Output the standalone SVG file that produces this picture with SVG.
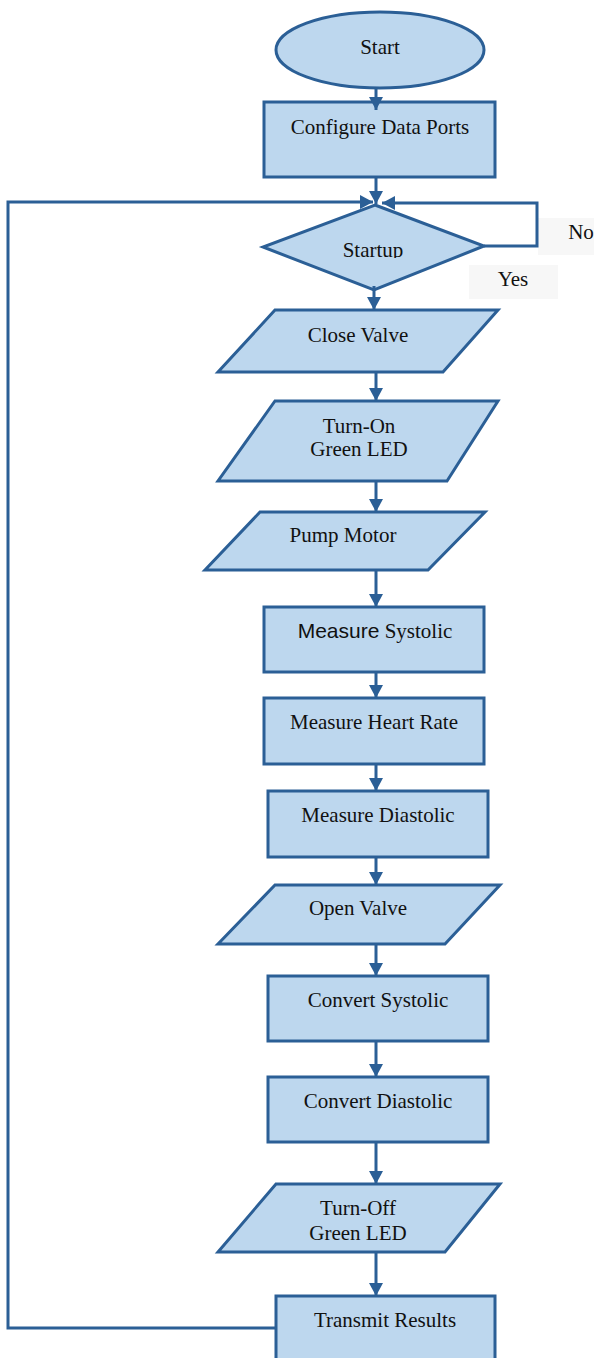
<svg xmlns="http://www.w3.org/2000/svg" width="594" height="1358" viewBox="0 0 594 1358">
<style>
.n{fill:#bdd7ee;stroke:#2b5f96;stroke-width:3;stroke-linejoin:miter}
.t{font-family:"Liberation Serif","Times New Roman",serif;font-size:21px;fill:#111;text-anchor:middle}
.s{font-family:"Liberation Sans",Arial,sans-serif}
.c{fill:none;stroke:#2b5f96;stroke-width:3}
.lb{fill:#f7f7f7}
</style>
<defs>
<marker id="ah" markerUnits="userSpaceOnUse" markerWidth="14" markerHeight="14" refX="13" refY="7" orient="auto">
<path d="M0,0 L13,7 L0,14 Z" fill="#2b5f96"/>
</marker>
<clipPath id="clipS"><rect x="300" y="225" width="150" height="33"/></clipPath>
</defs>
<rect width="594" height="1358" fill="#ffffff"/>

<g id="labels">
<rect class="lb" x="538" y="218" width="56" height="37"/>
<text class="t" x="581" y="239">No</text>
<rect class="lb" x="469" y="265" width="89" height="34"/>
<text class="t" x="513" y="286">Yes</text>
</g>

<g id="start"><ellipse class="n" cx="380" cy="50" rx="104" ry="38"/><text class="t" x="380" y="54">Start</text></g>
<g id="configure"><rect class="n" x="264" y="102" width="231" height="75"/><text class="t" x="380" y="134">Configure Data Ports</text></g>
<g id="startup"><polygon class="n" points="375,205 484,246 374,290 263,247"/><text class="t" x="373" y="257" clip-path="url(#clipS)">Startup</text></g>
<g id="close-valve"><polygon class="n" points="275,310 498,310 443,372 218,372"/><text class="t" x="358" y="342">Close Valve</text></g>
<g id="turn-on"><polygon class="n" points="275,401 498,401 447,481 218,481"/><text class="t" x="359" y="433">Turn-On</text><text class="t" x="359" y="456">Green LED</text></g>
<g id="pump-motor"><polygon class="n" points="260,512 485,512 428,570 205,570"/><text class="t" x="343" y="542">Pump Motor</text></g>
<g id="measure-systolic"><rect class="n" x="264" y="607" width="220" height="65"/><text class="t" x="375" y="638"><tspan class="s">Measure</tspan> Systolic</text></g>
<g id="measure-hr"><rect class="n" x="264" y="698" width="220" height="66"/><text class="t" x="374" y="729">Measure Heart Rate</text></g>
<g id="measure-diastolic"><rect class="n" x="268" y="791" width="220" height="66"/><text class="t" x="378" y="822">Measure Diastolic</text></g>
<g id="open-valve"><polygon class="n" points="275,885 500,885 445,944 218,944"/><text class="t" x="358" y="915">Open Valve</text></g>
<g id="convert-systolic"><rect class="n" x="268" y="976" width="220" height="65"/><text class="t" x="378" y="1007">Convert Systolic</text></g>
<g id="convert-diastolic"><rect class="n" x="268" y="1077" width="220" height="65"/><text class="t" x="378" y="1108">Convert Diastolic</text></g>
<g id="turn-off"><polygon class="n" points="276,1184 500,1184 445,1252 218,1252"/><text class="t" x="358" y="1215">Turn-Off</text><text class="t" x="358" y="1240">Green LED</text></g>
<g id="transmit"><rect class="n" x="276" y="1296" width="219" height="70"/><text class="t" x="385" y="1327">Transmit Results</text></g>

<g id="connectors">
<line class="c" x1="376" y1="88" x2="376" y2="110" marker-end="url(#ah)"/>
<line class="c" x1="376" y1="177" x2="376" y2="204" marker-end="url(#ah)"/>
<polyline class="c" points="276,1328 8,1328 8,202 373,202" marker-end="url(#ah)"/>
<polyline class="c" points="484,246 537,246 537,203 382,203" marker-end="url(#ah)"/>
<line class="c" x1="374" y1="286" x2="374" y2="310" marker-end="url(#ah)"/>
<line class="c" x1="376" y1="372" x2="376" y2="401" marker-end="url(#ah)"/>
<line class="c" x1="376" y1="481" x2="376" y2="512" marker-end="url(#ah)"/>
<line class="c" x1="376" y1="570" x2="376" y2="607" marker-end="url(#ah)"/>
<line class="c" x1="376" y1="672" x2="376" y2="698" marker-end="url(#ah)"/>
<line class="c" x1="376" y1="764" x2="376" y2="791" marker-end="url(#ah)"/>
<line class="c" x1="376" y1="857" x2="376" y2="885" marker-end="url(#ah)"/>
<line class="c" x1="376" y1="944" x2="376" y2="976" marker-end="url(#ah)"/>
<line class="c" x1="376" y1="1041" x2="376" y2="1077" marker-end="url(#ah)"/>
<line class="c" x1="376" y1="1142" x2="376" y2="1184" marker-end="url(#ah)"/>
<line class="c" x1="376" y1="1252" x2="376" y2="1296" marker-end="url(#ah)"/>
</g>
</svg>
